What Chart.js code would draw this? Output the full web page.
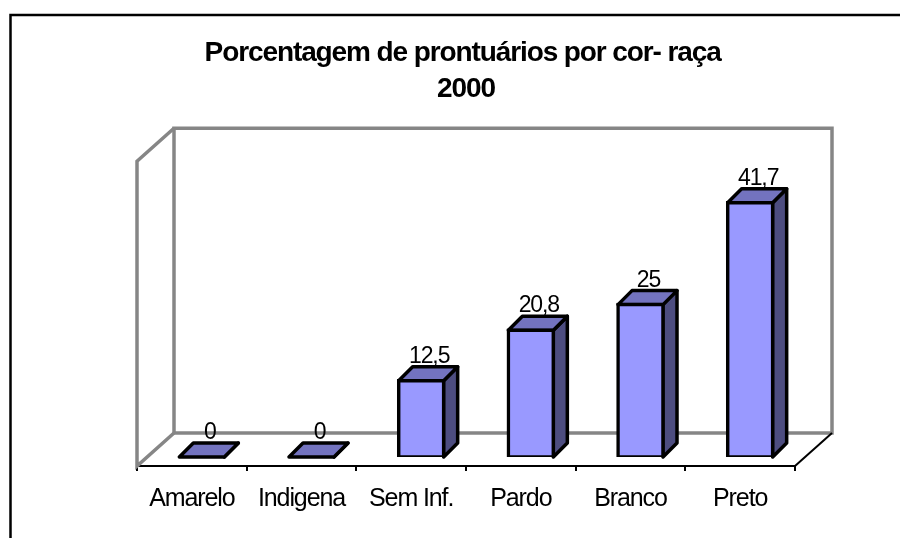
<!DOCTYPE html>
<html>
<head>
<meta charset="utf-8">
<title>Porcentagem de prontuários</title>
<script src="https://cdn.jsdelivr.net/npm/chart.js@4"></script>
<style>
html, body { margin: 0; padding: 0; background: #fff; }
canvas { display: block; }
</style>
</head>
<body>
<canvas id="raceChart" width="900" height="538"></canvas>
<script>
const categories = ["Amarelo", "Indigena", "Sem Inf.", "Pardo", "Branco", "Preto"];
const percentages = [0, 0, 12.5, 20.8, 25, 41.7];
const valueLabels = ["0", "0", "12,5", "20,8", "25", "41,7"];
const titleLines = ["Porcentagem de prontuários por cor- raça ", "2000"];

const FONT = '"Liberation Sans", Arial, sans-serif';
// how far the bars sit inside the floor, and how deep they are
const BAR_SHIFT = { x: 10, y: -9 };
const BAR_DEPTH = { x: 14, y: -14 };
// depth of the walls and floor
const WALL_DEPTH = { x: 37, y: -33 };

function line(ctx, points, color, width) {
    ctx.beginPath();
    points.forEach((p, i) => i ? ctx.lineTo(p[0], p[1]) : ctx.moveTo(p[0], p[1]));
    ctx.strokeStyle = color;
    ctx.lineWidth = width;
    ctx.lineJoin = "miter";
    ctx.stroke();
}

function shape(ctx, points, fill) {
    ctx.beginPath();
    points.forEach((p, i) => i ? ctx.lineTo(p[0], p[1]) : ctx.moveTo(p[0], p[1]));
    ctx.closePath();
    ctx.fillStyle = fill;
    ctx.fill();
    ctx.strokeStyle = "#000";
    ctx.lineWidth = 3.5;
    ctx.lineJoin = "round";
    ctx.stroke();
}

const frame3d = {
    id: "frame3d",
    beforeDraw(chart) {
        chart.ctx.letterSpacing = "-1.1px";
    },
    beforeDatasetsDraw(chart) {
        const ctx = chart.ctx;
        const a = chart.chartArea;
        const dx = WALL_DEPTH.x, dy = WALL_DEPTH.y;
        ctx.save();
        // outer box, only the top and left edges show
        line(ctx, [[10.5, 538], [10.5, 15], [900, 15]], "#000", 2.5);
        // back wall, side wall and floor
        line(ctx, [[a.left + dx, a.bottom + dy], [a.left + dx, a.top + dy], [a.right + dx, a.top + dy], [a.right + dx, a.bottom + dy], [a.left + dx, a.bottom + dy]], "#868686", 3.5);
        line(ctx, [[a.left + dx, a.top + dy], [a.left, a.top], [a.left, a.bottom], [a.left + dx, a.bottom + dy]], "#868686", 3.5);
        line(ctx, [[a.right, a.bottom], [a.right + dx, a.bottom + dy]], "#000", 2);
        ctx.restore();
    },
    beforeDatasetDraw(chart) {
        const ctx = chart.ctx;
        const bars = chart.getDatasetMeta(0).data;
        ctx.save();
        ctx.translate(BAR_SHIFT.x, BAR_SHIFT.y);
        // side and top faces, the front face is the library's own bar
        bars.forEach(bar => {
            const left = bar.x - bar.width / 2;
            const right = bar.x + bar.width / 2;
            const dx = BAR_DEPTH.x, dy = BAR_DEPTH.y;
            shape(ctx, [[right, bar.y], [right + dx, bar.y + dy], [right + dx, bar.base + dy], [right, bar.base]], "#4d4d80");
            shape(ctx, [[left, bar.y], [left + dx, bar.y + dy], [right + dx, bar.y + dy], [right, bar.y]], "#7373bf");
        });
    },
    afterDatasetDraw(chart) {
        const ctx = chart.ctx;
        ctx.restore();
        const bars = chart.getDatasetMeta(0).data;
        ctx.save();
        ctx.font = "23px " + FONT;
        ctx.fillStyle = "#000";
        ctx.textAlign = "center";
        ctx.textBaseline = "alphabetic";
        bars.forEach((bar, i) => {
            ctx.fillText(valueLabels[i], bar.x + BAR_SHIFT.x + 8, bar.y + BAR_SHIFT.y + BAR_DEPTH.y - 4);
        });
        ctx.restore();
    }
};

const ctx = document.getElementById("raceChart").getContext("2d");
new Chart(ctx, {
    type: "bar",
    data: {
        labels: categories,
        datasets: [{
            data: percentages,
            backgroundColor: "#9999ff",
            borderColor: "#000",
            borderWidth: 3.5,
            borderSkipped: false,
            inflateAmount: 1.75,
            barThickness: 45
        }]
    },
    options: {
        responsive: false,
        animation: false,
        layout: { padding: { left: 137, right: 105, top: 0, bottom: 0 } },
        plugins: {
            legend: { display: false },
            tooltip: { enabled: false },
            title: {
                display: true,
                text: titleLines,
                color: "#000",
                font: { family: FONT, size: 28, weight: "bold", lineHeight: 1.29 },
                padding: { top: 35, bottom: 54 }
            }
        },
        scales: {
            x: {
                afterFit(scale) { scale.height = 72; },
                border: { display: true, color: "#000", width: 2 },
                grid: { drawOnChartArea: false, drawTicks: true, tickLength: 5, color: "#000", lineWidth: 2 },
                ticks: {
                    color: "#000",
                    font: { family: FONT, size: 25 },
                    padding: 13,
                    autoSkip: false,
                    maxRotation: 0
                }
            },
            y: { display: false, min: 0, max: 50 }
        }
    },
    plugins: [frame3d]
});
</script>
</body>
</html>
